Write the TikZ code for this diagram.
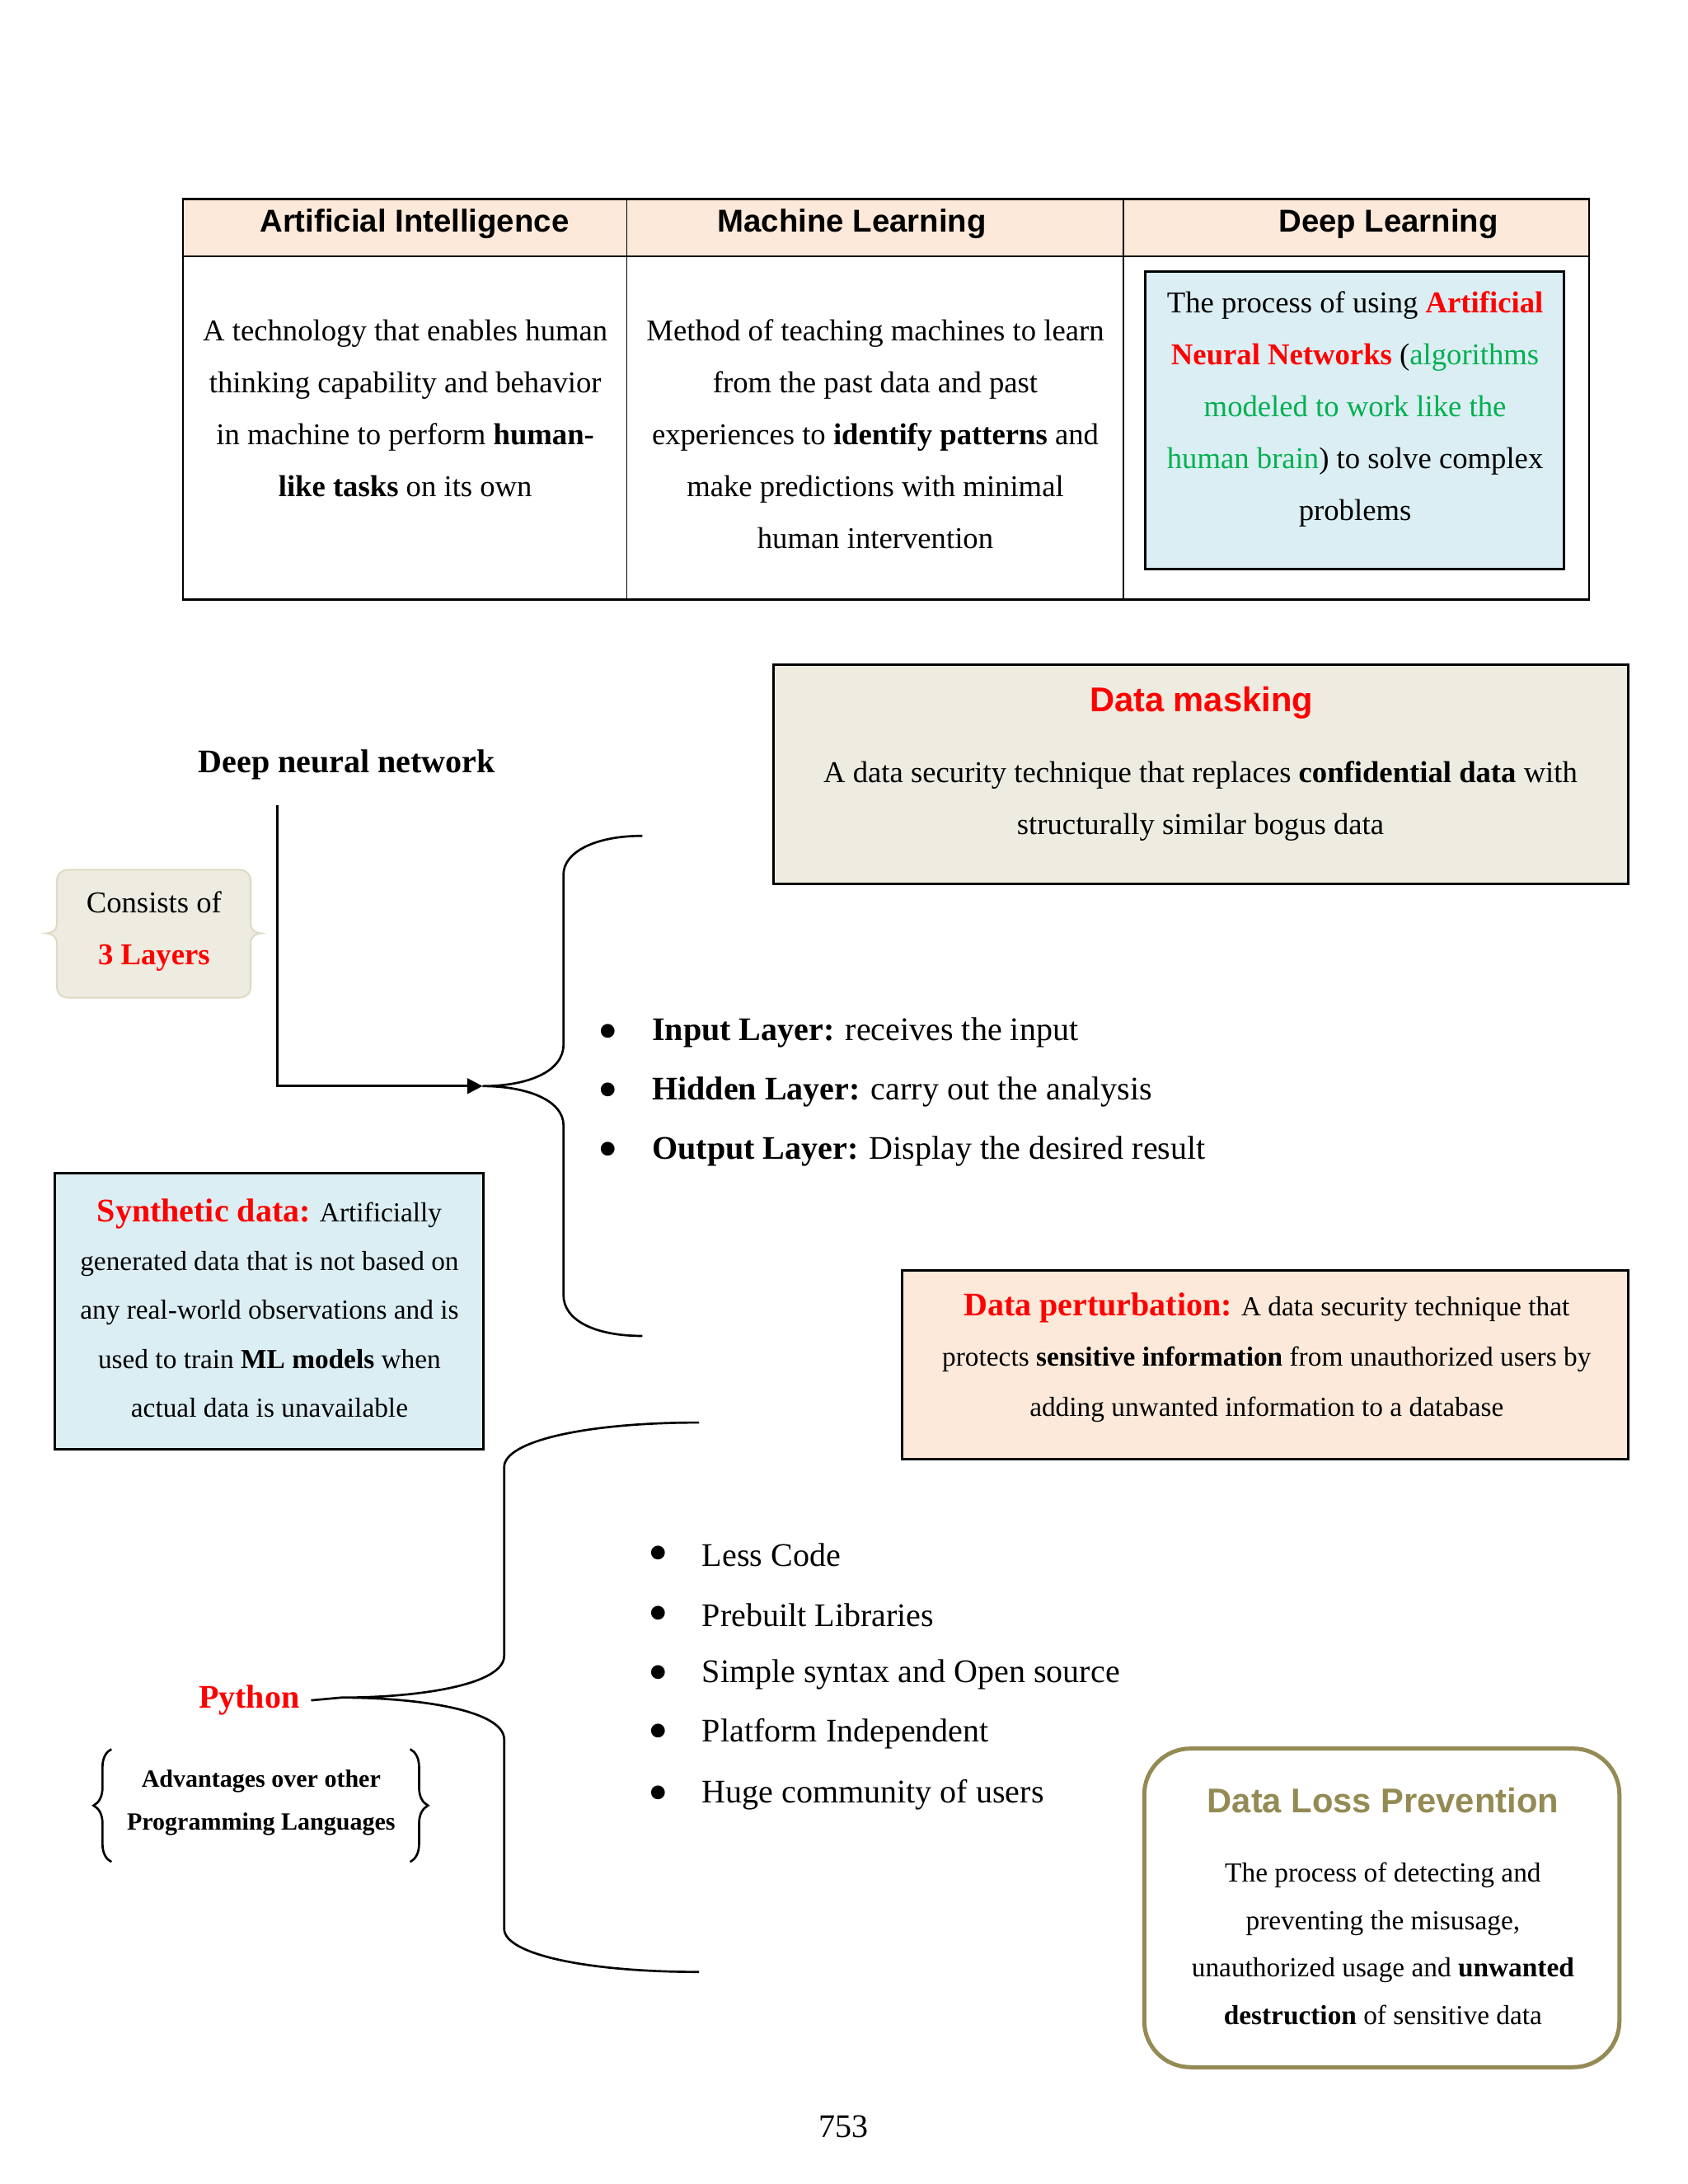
\documentclass[tikz,border=0pt]{standalone}
\usepackage{fontspec}
\setmainfont{Liberation Serif}
\setsansfont{Liberation Sans}
\usetikzlibrary{positioning, fit, arrows.meta, decorations.pathreplacing}

\definecolor{hdrfill}{HTML}{FDE9D9}
\definecolor{paleblue}{HTML}{DBEEF3}
\definecolor{tanfill}{HTML}{EEECE1}
\definecolor{tanline}{HTML}{DDD9C3}
\definecolor{peachfill}{HTML}{FDE9D9}
\definecolor{olive}{HTML}{948A54}
\definecolor{ttred}{HTML}{FF0000}
\definecolor{ttgreen}{HTML}{00B050}

\tikzset{txt/.style = {inner sep=0pt, align=center, yshift=-1pt},
         hdr/.style = {txt, font=\sffamily\bfseries\fontsize{11.5}{13}\selectfont},
         cell/.style = {txt, font=\fontsize{11}{18.9}\selectfont},
         smalltxt/.style = {txt, font=\fontsize{10}{17.8}\selectfont},
         sanstitle/.style = {txt, font=\sffamily\bfseries\fontsize{12.5}{15}\selectfont},
         bigbold/.style = {txt, font=\bfseries\fontsize{12}{14}\selectfont},
         listtxt/.style = {inner sep=0pt, anchor=west, yshift=-1pt, font=\fontsize{12}{14}\selectfont},
         bul/.style = {inner sep=0pt, yshift=-2.5pt, font=\fontsize{21}{21}\selectfont},
         boxframe/.style = {draw, line width=0.9pt, inner sep=0pt},
         curly/.style = {line width=0.8pt}}

\begin{document}
\begin{tikzpicture}[x=0.017813cm, y=-0.017813cm]
\useasboundingbox (0,0) rectangle (1212,1568.3);

% comparison table
\fill[hdrfill] (131.4,143) rectangle (1141,184);
\draw[line width=0.8pt] (131.4,143) rectangle (1141,430.5);
\draw[line width=0.8pt] (131.4,184) -- (1141,184);
\draw[line width=0.5pt] (450,143) -- (450,430.5);
\draw[line width=0.5pt] (806.5,143) -- (806.5,430.5);
\node[hdr] (aihead) at (297.6,158.6) {Artificial Intelligence};
\node[hdr] (mlhead) at (611.7,158.6) {Machine Learning};
\node[hdr] (dlhead) at (997,158.6) {Deep Learning};
\node[cell] (aitext) at (291,291.1) {A technology that enables human\\
    thinking capability and behavior\\
    in machine to perform \textbf{human-}\\
    \textbf{like tasks} on its own};
\node[cell] (mltext) at (628.5,309.8) {Method of teaching machines to learn\\
    from the past data and past\\
    experiences to \textbf{identify patterns} and\\
    make predictions with minimal\\
    human intervention};
\node[boxframe, fill=paleblue, fit={(822.5,195) (1123,408.5)}] (dlbox) {};
\node[cell] (dltext) at (973,291.6) {The process of using \textcolor{ttred}{\textbf{Artificial}}\\
    \textcolor{ttred}{\textbf{Neural Networks}} (\textcolor{ttgreen}{algorithms}\\
    \textcolor{ttgreen}{modeled to work like the}\\
    \textcolor{ttgreen}{human brain}) to solve complex\\
    problems};

% data masking
\node[boxframe, fill=tanfill, fit={(555.4,477) (1169,634.8)}] (maskbox) {};
\node[sanstitle, text=ttred] (masktitle) at (862.6,503) {Data masking};
\node[cell] (masktext) at (862,573.5) {A data security technique that replaces \textbf{confidential data} with\\
    structurally similar bogus data};

% deep neural network
\node[bigbold] (dnn) at (249,547.2) {Deep neural network};
\coordinate (dnnstart) at (198.9,578);
\coordinate (lyrtip) at (346.5,779.9);
\coordinate (lyrtop) at (461.2,600.2);
\coordinate (lyrbot) at (461.2,959.3);
\draw[line width=0.9pt, -{Triangle[length=5.6pt,width=5.6pt]}] (dnnstart) |- (lyrtip);
\draw[curly] (lyrtop) .. controls (427,600.2) and (404.6,612) .. (404.6,628)
    -- (404.6,750) .. controls (404.6,770) and (378,779.9) .. (lyrtip)
    .. controls (378,779.9) and (404.6,790) .. (404.6,808)
    -- (404.6,930) .. controls (404.6,948) and (427,959.3) .. (lyrbot);

\filldraw[fill=tanfill, draw=tanline, line width=0.6pt] (49,624.6) -- (172,624.6)
    .. controls (177,624.6) and (180,628) .. (180,633) -- (180,664)
    .. controls (180,668) and (184,670.2) .. (187.5,670.2)
    .. controls (184,670.2) and (180,672.5) .. (180,677) -- (180,708)
    .. controls (180,713) and (177,716.4) .. (172,716.4) -- (49,716.4)
    .. controls (44,716.4) and (40.8,713) .. (40.8,708) -- (40.8,677)
    .. controls (40.8,672.5) and (37,670.2) .. (33.2,670.2)
    .. controls (37,670.2) and (40.8,668) .. (40.8,664) -- (40.8,633)
    .. controls (40.8,628) and (44,624.6) .. (49,624.6) -- cycle;
\node[cell] (layers) at (110.6,666.8) {Consists of\\ \textcolor{ttred}{\textbf{3 Layers}}};

\node[bul] (lb1) at (436.6,739.7) {\textbullet};
\node[bul] (lb2) at (436.6,782.2) {\textbullet};
\node[bul] (lb3) at (436.6,824.5) {\textbullet};
\node[listtxt] (input) at (467.9,739.7) {\textbf{Input Layer:} receives the input};
\node[listtxt] (hidden) at (467.9,782.2) {\textbf{Hidden Layer:} carry out the analysis};
\node[listtxt] (output) at (467.9,824.5) {\textbf{Output Layer:} Display the desired result};

% synthetic data
\node[boxframe, fill=paleblue, fit={(39.6,842.7) (347,1040.5)}] (synbox) {};
\node[smalltxt] (syntext) at (193.5,937.3) {{\fontsize{12}{14}\selectfont\textbf{\textcolor{ttred}{Synthetic data:}}} Artificially\\
    generated data that is not based on\\
    any real-world observations and is\\
    used to train \textbf{ML models} when\\
    actual data is unavailable};

% data perturbation
\node[boxframe, fill=peachfill, fit={(648,912.3) (1169.4,1047.9)}] (pertbox) {};
\node[smalltxt, font=\fontsize{10}{18.3}\selectfont] (perttext) at (909.5,973) {{\fontsize{12}{14}\selectfont\textbf{\textcolor{ttred}{Data perturbation:}}} A data security technique that\\
    protects \textbf{sensitive information} from unauthorized users by\\
    adding unwanted information to a database};

% python
\node[bigbold, text=ttred, inner xsep=4pt] (python) at (178.9,1219) {Python};
\coordinate (pytip) at (245,1219);
\coordinate (pytop) at (502,1021.5);
\coordinate (pybot) at (502,1416);
\draw[curly] (python.east) -- (pytip);
\draw[curly] (pytop) .. controls (420,1021.5) and (362,1035) .. (362,1053.5)
    -- (362,1189) .. controls (362,1210) and (300,1219) .. (pytip)
    .. controls (300,1219) and (362,1228) .. (362,1249)
    -- (362,1385) .. controls (362,1403) and (420,1416) .. (pybot);

\node[txt, font=\bfseries\fontsize{9}{15.7}\selectfont] (adv) at (187.5,1292.5) {Advantages over other\\ Programming Languages};
\draw[curly, decorate, decoration={brace, amplitude=6.5pt}] (80,1337) -- (80,1256);
\draw[curly, decorate, decoration={brace, amplitude=6.5pt}] (294.5,1256) -- (294.5,1337);

\node[bul] (pb1) at (472.5,1114.5) {\textbullet};
\node[bul] (pb2) at (472.5,1157.8) {\textbullet};
\node[bul] (pb3) at (472.5,1200.3) {\textbullet};
\node[bul] (pb4) at (472.5,1242.7) {\textbullet};
\node[bul] (pb5) at (472.5,1287.1) {\textbullet};
\node[listtxt] (lesscode) at (503.8,1114.5) {Less Code};
\node[listtxt] (prebuilt) at (503.8,1157.8) {Prebuilt Libraries};
\node[listtxt] (syntax) at (503.8,1200.3) {Simple syntax and Open source};
\node[listtxt] (platform) at (503.8,1242.7) {Platform Independent};
\node[listtxt] (community) at (503.8,1287.1) {Huge community of users};

% data loss prevention
\node[draw=olive, line width=1.5pt, rounded corners=0.59cm, inner sep=0pt, fit={(821.6,1255.6) (1162.8,1484.4)}] (dlpbox) {};
\node[sanstitle, text=olive] (dlptitle) at (993,1291) {Data Loss Prevention};
\node[smalltxt, font=\fontsize{10}{17.3}\selectfont] (dlptext) at (993,1393.7) {The process of detecting and\\
    preventing the misusage,\\
    unauthorized usage and \textbf{unwanted}\\
    \textbf{destruction} of sensitive data};

\node[txt, font=\fontsize{12}{14}\selectfont] (pagenum) at (606,1525) {753};
\end{tikzpicture}
\end{document}
